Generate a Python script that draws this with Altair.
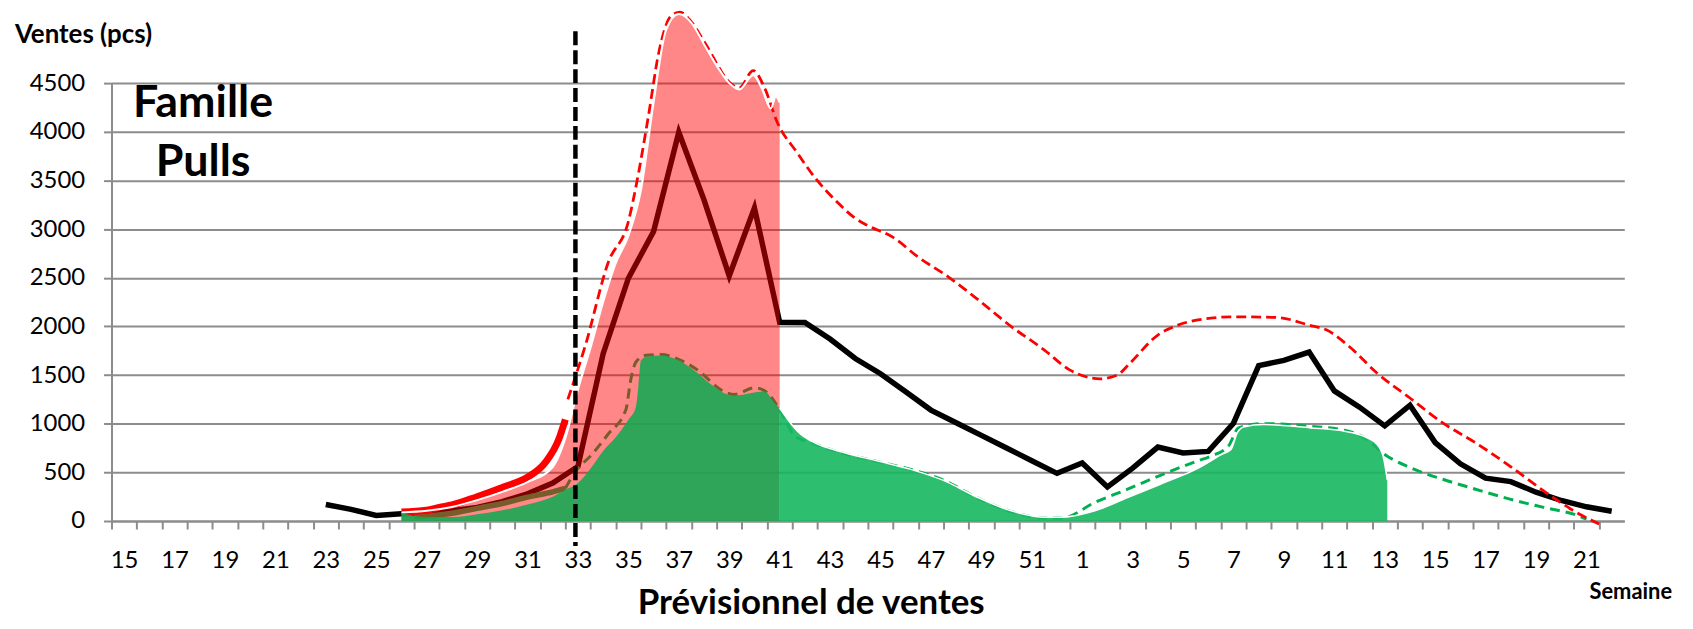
import altair as alt
import pandas as pd

# Category axis: week numbers (index 0 = week 15 ... index 59 = week 22 of next year)
WEEKS = list(range(15, 53)) + list(range(1, 23))

# Ventes réelles / prévues (black line), by week index
SALES_IDX = list(range(8, 60))
SALES = [170, 120, 58, 75, 82, 105, 140, 200, 280, 391,
         561, 1720, 2495, 2975, 3995, 3300, 2518, 3218, 2042,
         2040, 1870, 1670, 1513, 1328, 1140, 1010, 880, 750, 620, 490,
         597, 350, 544, 760, 700, 715, 1005, 1597, 1650, 1736,
         1337, 1170, 978, 1190, 806, 588, 440, 405, 296, 211, 146, 100]

# Historique haut (thick red) and bas (thick green)
HIST_HI_X = [11, 12, 12.5, 13, 14, 15, 16, 16.7, 17.24, 17.5]
HIST_HI = [92, 110, 140, 165, 250, 345, 450, 600, 840, 1044]
HIST_LO_X = [11.5, 12, 13, 14, 15, 16, 17, 17.5]
HIST_LO = [45, 50, 80, 130, 180, 245, 300, 335]

# Prévision haute (red dashed)
PREV_HI_X = [17.6, 18.3, 19.2, 20.0, 20.4, 20.8, 21.2, 21.7, 22.05, 22.5, 23.04, 24.1, 24.4,
             24.95, 25.4, 25.9, 26.7, 27.4, 28.3, 28.95, 29.5, 30.5, 31.5, 32.7, 33.9, 35.2,
             36.5, 37.5, 38.7, 39.4, 39.9, 41.0, 41.8, 43.1, 44.0, 45.7, 47.0, 47.7, 48.6,
             49.7, 51.0, 52.3, 53.6, 54.96, 56.3, 57.6, 58.5]
PREV_HI = [1250, 1810, 2656, 3078, 3572, 4170, 4805, 5192, 5228, 5130, 4911, 4488, 4452,
           4629, 4453, 4100, 3783, 3528, 3273, 3120, 3035, 2915, 2711, 2507, 2268, 1996,
           1757, 1553, 1461, 1502, 1624, 1911, 2013, 2085, 2098, 2092, 2013, 1962, 1791,
           1519, 1264, 1008, 804, 565, 310, 89, -30]

# Prévision basse (green dashed)
PREV_LO_X = [17.5, 17.9, 18.55, 19.2, 19.9, 20.1, 20.3, 20.7, 21.3, 21.95, 22.7, 23.8, 24.2,
             25.0, 25.5, 26.1, 26.6, 27.3, 28.6, 29.9, 31.2, 32.5, 33.9, 35.2, 36.5, 37.2,
             38.5, 39.8, 41.1, 42.56, 43.1, 43.8, 44.2, 45.1, 47.05, 48.4, 49.3, 49.9, 51.0,
             52.3, 53.6, 54.96, 56.3, 57.6, 58.0]
PREV_LO = [335, 509, 683, 894, 1143, 1459, 1634, 1704, 1710, 1666, 1560, 1330, 1300,
           1370, 1320, 1100, 874, 800, 690, 610, 530, 420, 230, 95, 30, 30,
           191, 327, 470, 616, 667, 770, 957, 1001, 974, 933, 838, 702, 549,
           429, 327, 225, 140, 61, 20]

# Zone rouge (pink area)
ZONE_X = [11, 12, 13, 14, 15, 16, 17, 17.5, 18, 18.5, 19, 19.5, 20, 20.5, 21, 21.5, 22,
          22.5, 23, 23.5, 24, 24.4, 24.95, 25.3, 25.65, 25.85, 26.0]
ZONE = [88, 105, 145, 215, 300, 400, 555, 850, 1350, 1780, 2250, 2650, 2930, 3400, 4300,
        5050, 5210, 5120, 4900, 4680, 4500, 4435, 4580, 4440, 4240, 4360, 4300]

# Stock (green area), part inside the red zone and part after it
STOCK_A_X = [11, 11.5, 12, 13, 14, 15, 16, 17, 17.5, 18, 18.5, 19, 19.5, 20, 20.3, 20.4,
             20.5, 20.75, 21.3, 22, 22.7, 23.3, 23.8, 24.2, 24.85, 25.4, 25.8, 26.0]
STOCK_A = [80, 55, 40, 40, 70, 110, 170, 250, 320, 390, 540, 720, 860, 1040, 1175, 1390,
           1650, 1690, 1700, 1650, 1530, 1400, 1314, 1290, 1314, 1330, 1212, 1160]
STOCK_B_X = [26.0, 26.45, 26.8, 27.26, 28.58, 29.9, 31.2, 32.54, 33.86, 35.18, 36.5, 37.15,
             38.5, 39.8, 41.1, 42.56, 43.5, 43.9, 44.15, 44.4, 45.2, 47.05, 48.4, 49.3, 49.7,
             49.95, 50.1]
STOCK_B = [1160, 1000, 900, 821, 702, 616, 531, 412, 242, 105, 38, 38,
           105, 242, 378, 538, 680, 736, 906, 967, 991, 957, 923, 855, 787, 650, 420]

TODAY = [17.9]

FONT = "Lato"
GRAY = "#8C8C8C"
PLOT_W = 1520
HALF = PLOT_W / 60 / 2


def frame(xs, vs):
    return pd.DataFrame({"i": xs, "v": vs})


label_expr = ("(datum.value % 2 == 0 && datum.value < 60) ? '' + "
              + str(WEEKS) + "[datum.value] : ''")

X = alt.X("i:Q", title=None,
          scale=alt.Scale(domain=[-0.5, 59.5], nice=False, zero=False),
          axis=alt.Axis(values=list(range(0, 61)), tickOffset=-HALF, labelOffset=HALF,
                        labelExpr=label_expr, labelOverlap=False, labelFlush=False,
                        grid=False, domainColor=GRAY, domainWidth=2, tickColor=GRAY,
                        tickWidth=2, tickSize=8, labelFont=FONT, labelFontSize=24,
                        labelColor="black", labelPadding=20))
Y = alt.Y("v:Q", title=None,
          scale=alt.Scale(domain=[0, 4500], nice=False),
          axis=alt.Axis(values=list(range(0, 4501, 500)), format="d", grid=True,
                        gridColor=GRAY, gridWidth=2, domainColor=GRAY, domainWidth=2,
                        tickColor=GRAY, tickWidth=2, tickSize=8, labelFont=FONT,
                        labelFontSize=24, labelColor="black", labelPadding=19))

sales = alt.Chart(frame(SALES_IDX, SALES)).mark_line(
    color="black", strokeWidth=5.5, strokeJoin="miter").encode(x=X, y=Y)

hist_lo = alt.Chart(frame(HIST_LO_X, HIST_LO)).mark_line(
    color="#00B050", strokeWidth=5.5, interpolate="monotone").encode(x=X, y=Y)
prev_lo = alt.Chart(frame(PREV_LO_X, PREV_LO)).mark_line(
    color="#00B050", strokeWidth=3, strokeDash=[10, 6], interpolate="monotone").encode(x=X, y=Y)
hist_hi = alt.Chart(frame(HIST_HI_X, HIST_HI)).mark_line(
    color="#FF0000", strokeWidth=7, interpolate="monotone").encode(x=X, y=Y)
prev_hi = alt.Chart(frame(PREV_HI_X, PREV_HI)).mark_line(
    color="#FF0000", strokeWidth=2.8, strokeDash=[10, 5], interpolate="monotone").encode(x=X, y=Y)

zone = alt.Chart(frame(ZONE_X, ZONE)).mark_area(
    color="#FF0000", opacity=0.47, interpolate="monotone",
    line={"color": "white", "strokeWidth": 2}).encode(x=X, y=Y)

stock_a = alt.Chart(frame(STOCK_A_X, STOCK_A)).mark_area(
    color="#17A853", opacity=0.9, interpolate="monotone").encode(x=X, y=Y)
stock_b = alt.Chart(frame(STOCK_B_X, STOCK_B)).mark_area(
    color="#17B760", opacity=0.9, interpolate="monotone",
    line={"color": "white", "strokeWidth": 1.5}).encode(x=X, y=Y)

today = alt.Chart(pd.DataFrame({"i": TODAY})).mark_rule(
    color="black", strokeWidth=4.5, strokeDash=[14, 5]).encode(
    x=X, y=alt.value(-52), y2=alt.value(465))


def label(text, x, y, size, align="center", baseline="middle"):
    return alt.Chart(pd.DataFrame({"t": [text]})).mark_text(
        font=FONT, fontSize=size, fontWeight="bold", color="black",
        align=align, baseline=baseline).encode(
        text="t:N", x=alt.value(x), y=alt.value(y))


texts = [
    label("Ventes (pcs)", -97, -48, 26, "left"),
    label("Famille", 92, 20, 45),
    label("Pulls", 92, 79, 45),
    label("Prévisionnel de ventes", 703, 533, 35, "center", "alphabetic"),
    label("Semaine", 1485, 511, 22, "left"),
]

chart = alt.layer(sales, hist_lo, prev_lo, hist_hi, prev_hi, zone, stock_a, stock_b,
                  today, *texts).properties(
    width=PLOT_W, height=440,
    autosize=alt.AutoSizeParams(type="none"),
    padding={"left": 104, "top": 74, "right": 61, "bottom": 99},
).configure_view(stroke=None)

chart.save("out.html", embed_options={"renderer": "svg", "actions": False})
